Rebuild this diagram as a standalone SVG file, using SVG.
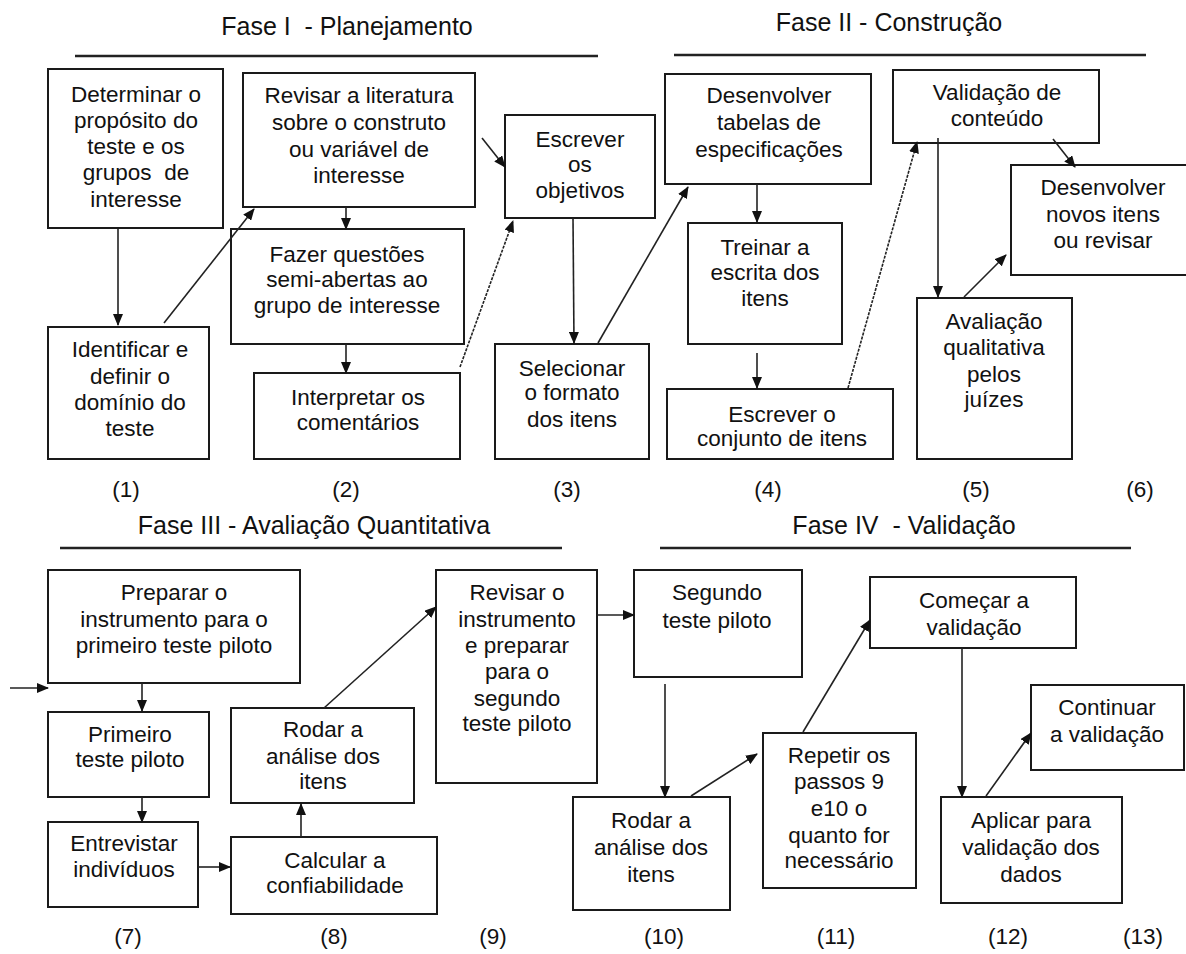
<svg xmlns="http://www.w3.org/2000/svg" width="1186" height="954" viewBox="0 0 1186 954">
<style>
.bx{fill:#fff;stroke:#1a1a1a;stroke-width:2}
.t{font-family:"Liberation Sans",Arial,sans-serif;font-size:22.5px;fill:#111;text-anchor:middle}
.h{font-family:"Liberation Sans",Arial,sans-serif;font-size:25px;fill:#111;text-anchor:middle}
.ln{stroke:#222;stroke-width:2.5}
.c{stroke:#222;stroke-width:1.6;fill:none;marker-end:url(#ah)}
.d{stroke-dasharray:3 1.2}
</style>
<defs>
<marker id="ah" markerUnits="userSpaceOnUse" markerWidth="12" markerHeight="10" refX="11" refY="5" orient="auto">
<path d="M0,0 L12,5 L0,10 z" fill="#111"/>
</marker>
</defs>
<rect width="1186" height="954" fill="#fff"/>

<g id="phases">
<text class="h" x="347" y="35" xml:space="preserve">Fase I  - Planejamento</text>
<line class="ln" x1="75" y1="56" x2="598" y2="56"/>
<text class="h" x="889" y="31">Fase II - Construção</text>
<line class="ln" x1="674" y1="55" x2="1146" y2="55"/>
<text class="h" x="314" y="534">Fase III - Avaliação Quantitativa</text>
<line class="ln" x1="60" y1="548" x2="562" y2="548"/>
<text class="h" x="904" y="534" xml:space="preserve">Fase IV  - Validação</text>
<line class="ln" x1="660" y1="548" x2="1131" y2="548"/>
</g>

<g id="step-labels">
<text class="t" x="126" y="497">(1)</text>
<text class="t" x="346" y="497">(2)</text>
<text class="t" x="567" y="497">(3)</text>
<text class="t" x="768" y="497">(4)</text>
<text class="t" x="976" y="497">(5)</text>
<text class="t" x="1140" y="497">(6)</text>
<text class="t" x="128" y="944">(7)</text>
<text class="t" x="334" y="944">(8)</text>
<text class="t" x="493" y="944">(9)</text>
<text class="t" x="664" y="944">(10)</text>
<text class="t" x="836" y="944">(11)</text>
<text class="t" x="1008" y="944">(12)</text>
<text class="t" x="1143" y="944">(13)</text>
</g>

<g id="n-determinar">
<rect class="bx" x="48" y="69" width="175" height="159"/>
<text class="t" x="136" y="102">Determinar o</text>
<text class="t" x="136" y="128">propósito do</text>
<text class="t" x="136" y="154">teste e os</text>
<text class="t" x="136" y="180" xml:space="preserve">grupos  de</text>
<text class="t" x="136" y="207">interesse</text>
</g>
<g id="n-revisar-literatura">
<rect class="bx" x="243" y="73" width="232" height="134"/>
<text class="t" x="359" y="103">Revisar a literatura</text>
<text class="t" x="359" y="130">sobre o construto</text>
<text class="t" x="359" y="157">ou variável de</text>
<text class="t" x="359" y="183">interesse</text>
</g>
<g id="n-escrever-objetivos">
<rect class="bx" x="505" y="115" width="150" height="103"/>
<text class="t" x="580" y="147">Escrever</text>
<text class="t" x="580" y="172">os</text>
<text class="t" x="580" y="198">objetivos</text>
</g>
<g id="n-fazer-questoes">
<rect class="bx" x="231" y="229" width="233" height="115"/>
<text class="t" x="347" y="262">Fazer questões</text>
<text class="t" x="347" y="287">semi-abertas ao</text>
<text class="t" x="347" y="313">grupo de interesse</text>
</g>
<g id="n-identificar">
<rect class="bx" x="48" y="327" width="161" height="132"/>
<text class="t" x="130" y="357">Identificar e</text>
<text class="t" x="130" y="384">definir o</text>
<text class="t" x="130" y="410">domínio do</text>
<text class="t" x="130" y="436">teste</text>
</g>
<g id="n-interpretar">
<rect class="bx" x="254" y="373" width="206" height="86"/>
<text class="t" x="358" y="405">Interpretar os</text>
<text class="t" x="358" y="430">comentários</text>
</g>
<g id="n-selecionar">
<rect class="bx" x="495" y="344" width="154" height="115"/>
<text class="t" x="572" y="376">Selecionar</text>
<text class="t" x="572" y="400">o formato</text>
<text class="t" x="572" y="427">dos itens</text>
</g>
<g id="n-tabelas">
<rect class="bx" x="665" y="74" width="206" height="110"/>
<text class="t" x="769" y="103">Desenvolver</text>
<text class="t" x="769" y="130">tabelas de</text>
<text class="t" x="769" y="157">especificações</text>
</g>
<g id="n-validacao-conteudo">
<rect class="bx" x="893" y="70" width="206" height="73"/>
<text class="t" x="997" y="100">Validação de</text>
<text class="t" x="997" y="126">conteúdo</text>
</g>
<g id="n-novos-itens">
<rect class="bx" x="1011" y="165" width="192" height="110"/>
<text class="t" x="1103" y="195">Desenvolver</text>
<text class="t" x="1103" y="222">novos itens</text>
<text class="t" x="1103" y="248">ou revisar</text>
</g>
<g id="n-treinar">
<rect class="bx" x="688" y="223" width="154" height="121"/>
<text class="t" x="765" y="255">Treinar a</text>
<text class="t" x="765" y="280">escrita dos</text>
<text class="t" x="765" y="306">itens</text>
</g>
<g id="n-escrever-conjunto">
<rect class="bx" x="667" y="389" width="226" height="70"/>
<text class="t" x="782" y="422">Escrever o</text>
<text class="t" x="782" y="446">conjunto de itens</text>
</g>
<g id="n-avaliacao">
<rect class="bx" x="917" y="298" width="155" height="161"/>
<text class="t" x="994" y="329">Avaliação</text>
<text class="t" x="994" y="355">qualitativa</text>
<text class="t" x="994" y="382">pelos</text>
<text class="t" x="994" y="407">juízes</text>
</g>

<g id="n-preparar">
<rect class="bx" x="48" y="570" width="252" height="113"/>
<text class="t" x="174" y="600">Preparar o</text>
<text class="t" x="174" y="627">instrumento para o</text>
<text class="t" x="174" y="653">primeiro teste piloto</text>
</g>
<g id="n-primeiro">
<rect class="bx" x="48" y="712" width="161" height="85"/>
<text class="t" x="130" y="742">Primeiro</text>
<text class="t" x="130" y="767">teste piloto</text>
</g>
<g id="n-entrevistar">
<rect class="bx" x="48" y="822" width="150" height="85"/>
<text class="t" x="124" y="851">Entrevistar</text>
<text class="t" x="124" y="877">indivíduos</text>
</g>
<g id="n-calcular">
<rect class="bx" x="231" y="837" width="206" height="77"/>
<text class="t" x="335" y="868">Calcular a</text>
<text class="t" x="335" y="893">confiabilidade</text>
</g>
<g id="n-rodar-8">
<rect class="bx" x="231" y="708" width="183" height="95"/>
<text class="t" x="323" y="737">Rodar a</text>
<text class="t" x="323" y="764">análise dos</text>
<text class="t" x="323" y="789">itens</text>
</g>
<g id="n-revisar-instrumento">
<rect class="bx" x="436" y="570" width="161" height="213"/>
<text class="t" x="517" y="600">Revisar o</text>
<text class="t" x="517" y="627">instrumento</text>
<text class="t" x="517" y="653">e preparar</text>
<text class="t" x="517" y="679">para o</text>
<text class="t" x="517" y="706">segundo</text>
<text class="t" x="517" y="731">teste piloto</text>
</g>
<g id="n-segundo">
<rect class="bx" x="634" y="570" width="168" height="107"/>
<text class="t" x="717" y="600">Segundo</text>
<text class="t" x="717" y="628">teste piloto</text>
</g>
<g id="n-rodar-10">
<rect class="bx" x="573" y="797" width="157" height="113"/>
<text class="t" x="651" y="828">Rodar a</text>
<text class="t" x="651" y="855">análise dos</text>
<text class="t" x="651" y="882">itens</text>
</g>
<g id="n-repetir">
<rect class="bx" x="763" y="733" width="153" height="155"/>
<text class="t" x="839" y="763">Repetir os</text>
<text class="t" x="839" y="789">passos 9</text>
<text class="t" x="839" y="816">e10 o</text>
<text class="t" x="839" y="843">quanto for</text>
<text class="t" x="839" y="868">necessário</text>
</g>
<g id="n-comecar">
<rect class="bx" x="870" y="577" width="206" height="71"/>
<text class="t" x="974" y="608">Começar a</text>
<text class="t" x="974" y="635">validação</text>
</g>
<g id="n-aplicar">
<rect class="bx" x="941" y="797" width="181" height="106"/>
<text class="t" x="1031" y="828">Aplicar para</text>
<text class="t" x="1031" y="855">validação dos</text>
<text class="t" x="1031" y="882">dados</text>
</g>
<g id="n-continuar">
<rect class="bx" x="1031" y="685" width="153" height="85"/>
<text class="t" x="1107" y="715">Continuar</text>
<text class="t" x="1107" y="742">a validação</text>
</g>

<g id="connectors">
<line class="c" x1="118" y1="229" x2="118" y2="325"/>
<line class="c" x1="164" y1="323" x2="254" y2="209"/>
<line class="c" x1="346" y1="207" x2="346" y2="229"/>
<line class="c" x1="346" y1="344" x2="346" y2="373"/>
<line class="c d" x1="460" y1="367" x2="513" y2="221"/>
<line class="c" x1="482" y1="138" x2="505" y2="167"/>
<line class="c" x1="573" y1="218" x2="574" y2="343"/>
<line class="c" x1="598" y1="343" x2="688" y2="187"/>
<line class="c" x1="757" y1="184" x2="757" y2="222"/>
<line class="c" x1="757" y1="353" x2="757" y2="388"/>
<line class="c d" x1="848" y1="388" x2="917" y2="142"/>
<line class="c" x1="938" y1="138" x2="938" y2="297"/>
<line class="c" x1="1053" y1="139" x2="1075" y2="167"/>
<line class="c" x1="964" y1="297" x2="1006" y2="255"/>
<line class="c" x1="10" y1="688" x2="48" y2="688"/>
<line class="c" x1="142" y1="683" x2="142" y2="711"/>
<line class="c" x1="142" y1="797" x2="142" y2="822"/>
<line class="c" x1="198" y1="867" x2="230" y2="867"/>
<line class="c" x1="301" y1="837" x2="301" y2="804"/>
<line class="c" x1="324" y1="708" x2="436" y2="607"/>
<line class="c" x1="597" y1="615" x2="634" y2="615"/>
<line class="c" x1="665" y1="684" x2="665" y2="797"/>
<line class="c" x1="691" y1="796" x2="757" y2="754"/>
<line class="c" x1="803" y1="732" x2="870" y2="620"/>
<line class="c" x1="962" y1="648" x2="962" y2="797"/>
<line class="c" x1="986" y1="796" x2="1031" y2="733"/>
</g>
</svg>
